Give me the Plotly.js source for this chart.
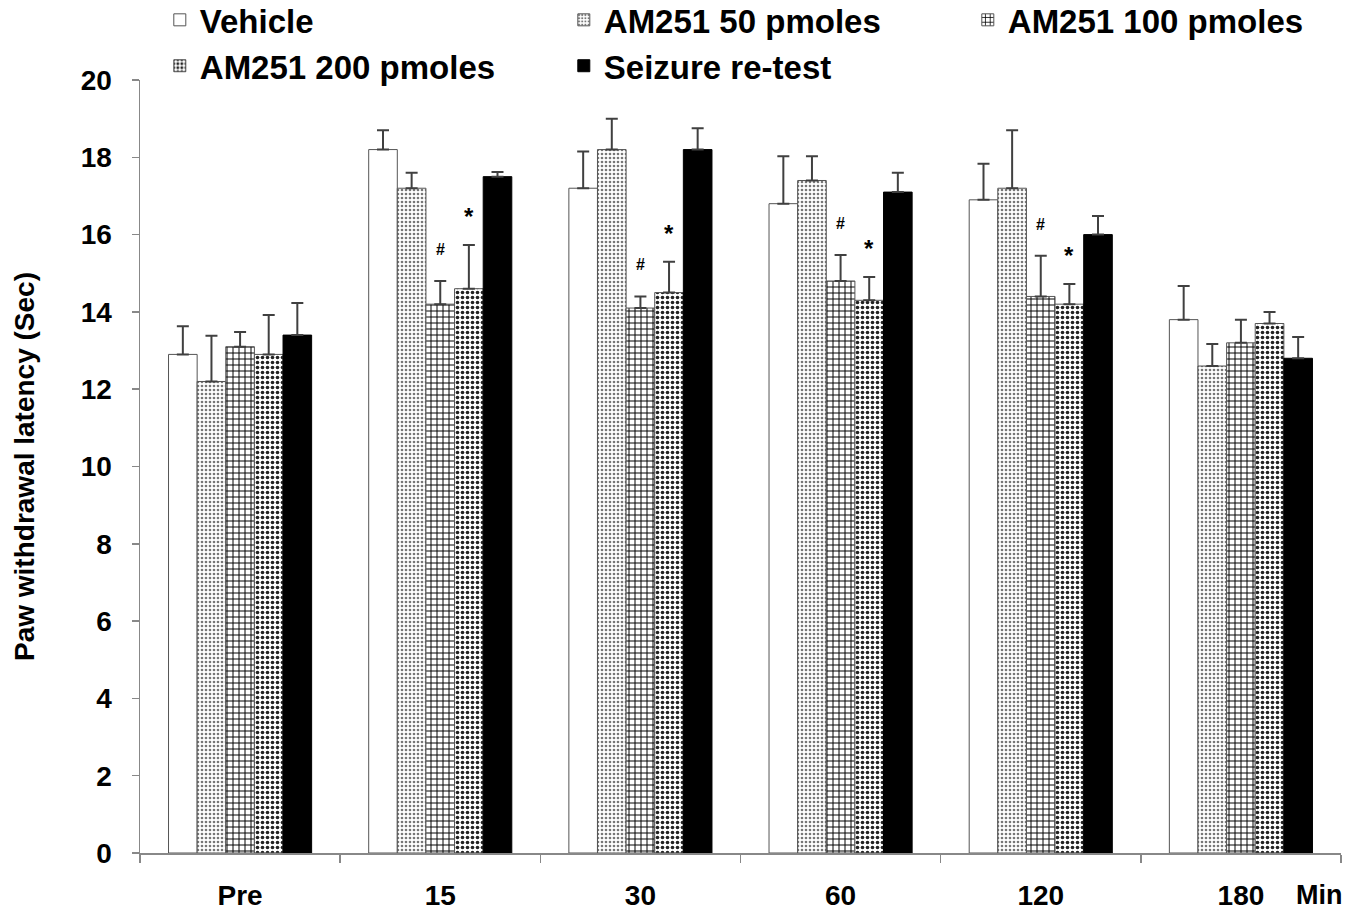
<!DOCTYPE html>
<html>
<head>
<meta charset="utf-8">
<script src="https://cdn.plot.ly/plotly-3.0.1.min.js"></script>
<style>html,body{margin:0;padding:0;background:#fff;}#chart{width:1358px;height:910px;}</style>
</head>
<body>
<div id="chart"></div>
<script>
// ---- data ----
var categories = ['Pre', '15', '30', '60', '120', '180'];
var seriesNames = ['Vehicle', 'AM251 50 pmoles', 'AM251 100 pmoles', 'AM251 200 pmoles', 'Seizure re-test'];
var vehicle   = [12.9, 18.2, 17.2, 16.8, 16.9, 13.8];
var am50      = [12.2, 17.2, 18.2, 17.4, 17.2, 12.6];
var am100     = [13.1, 14.2, 14.1, 14.8, 14.4, 13.2];
var am200     = [12.9, 14.6, 14.5, 14.3, 14.2, 13.7];
var seizure   = [13.4, 17.5, 18.2, 17.1, 16.0, 12.8];
var vehicleErr = [0.73, 0.50, 0.95, 1.23, 0.93, 0.87];
var am50Err    = [1.18, 0.40, 0.80, 0.63, 1.50, 0.57];
var am100Err   = [0.38, 0.60, 0.30, 0.67, 1.05, 0.60];
var am200Err   = [1.02, 1.13, 0.80, 0.60, 0.52, 0.30];
var seizureErr = [0.83, 0.12, 0.55, 0.50, 0.48, 0.55];
var hashCats = ['15', '30', '60', '120'];   // '#' over AM251 100 pmoles
var starCats = ['15', '30', '60', '120'];   // '*' over AM251 200 pmoles
var yTickVals = [0, 2, 4, 6, 8, 10, 12, 14, 16, 18, 20];

// ---- styles ----
var outline = {color: '#555', width: 1};
var styles = [
  {color: '#ffffff', line: outline},
  {color: '#ffffff', line: outline, pattern: {shape: '.', fgcolor: '#777', bgcolor: '#fff', size: 4, solidity: 0.35}},
  {color: '#ffffff', line: outline, pattern: {shape: '+', fgcolor: '#000', bgcolor: '#fff', size: 6, solidity: 0.3}},
  {color: '#ffffff', line: outline, pattern: {shape: '.', fgcolor: '#222', bgcolor: '#fff', size: 5, solidity: 0.42}},
  {color: '#000000', line: {color: '#000', width: 1}}
];
var values = [vehicle, am50, am100, am200, seizure];
var errs = [vehicleErr, am50Err, am100Err, am200Err, seizureErr];

var traces = values.map(function (v, i) {
  return {
    type: 'bar',
    name: seriesNames[i],
    x: categories,
    y: v,
    marker: styles[i],
    error_y: {
      type: 'data', symmetric: false,
      array: errs[i],
      arrayminus: v.map(function () { return 0; }),
      color: '#404040', thickness: 2, width: 6
    }
  };
});

var FONT = 'Liberation Sans, Arial, sans-serif';
var bargap = 0.285;
var barW = (1 - bargap) / seriesNames.length;
var annotations = [];
hashCats.forEach(function (c) {
  var k = categories.indexOf(c);
  annotations.push({
    x: k, y: am100[k] + am100Err[k], xref: 'x', yref: 'y',
    text: '#', showarrow: false, yanchor: 'bottom', yshift: 21,
    font: {family: FONT, size: 16, color: '#000', weight: 'bold'}
  });
});
starCats.forEach(function (c) {
  var k = categories.indexOf(c);
  annotations.push({
    x: k + barW, y: am200[k] + am200Err[k], xref: 'x', yref: 'y',
    text: '*', showarrow: false, yanchor: 'bottom', yshift: 13,
    font: {family: FONT, size: 24, color: '#000', weight: 'bold'}
  });
});
annotations.push({
  x: 1, y: 0, xref: 'paper', yref: 'paper', xanchor: 'right', yanchor: 'middle',
  xshift: 4, yshift: -42, text: 'Min', showarrow: false,
  font: {family: FONT, size: 27, color: '#000', weight: 'bold'}
});

var layout = {
  width: 1358, height: 910,
  paper_bgcolor: '#fff', plot_bgcolor: '#fff',
  margin: {l: 140, r: 17, t: 80, b: 57, autoexpand: false},
  barmode: 'group', bargap: bargap, bargroupgap: 0,
  font: {family: FONT, color: '#000'},
  showlegend: true,
  legend: {
    orientation: 'h', x: -0.001, y: 1.114, xanchor: 'left', yanchor: 'top',
    entrywidth: 338, entrywidthmode: 'pixels', indentation: 21,
    font: {size: 33, color: '#000', weight: 'bold'},
    bgcolor: 'rgba(0,0,0,0)', traceorder: 'normal', tracegroupgap: 0
  },
  xaxis: {
    type: 'category', categoryorder: 'array', categoryarray: categories,
    showline: true, linecolor: '#888', linewidth: 1.5,
    ticks: 'outside', tickson: 'boundaries', ticklen: 8, tickcolor: '#888', tickwidth: 1.5,
    ticklabelstandoff: 17,
    showgrid: false, zeroline: false,
    tickfont: {size: 28, color: '#000', weight: 'bold'}, automargin: false
  },
  yaxis: {
    range: [0, 20], tickvals: yTickVals,
    showline: true, linecolor: '#888', linewidth: 1.5,
    ticks: 'outside', ticklen: 7, tickcolor: '#888', tickwidth: 1.5,
    ticklabelstandoff: 14,
    showgrid: false, zeroline: false,
    tickfont: {size: 28, color: '#000', weight: 'bold'},
    title: {text: 'Paw withdrawal latency (Sec)', standoff: 38,
            font: {size: 28, color: '#000', weight: 'bold'}},
    automargin: false
  },
  annotations: annotations
};

Plotly.newPlot('chart', traces, layout, {displayModeBar: false, staticPlot: true});
</script>
</body>
</html>
